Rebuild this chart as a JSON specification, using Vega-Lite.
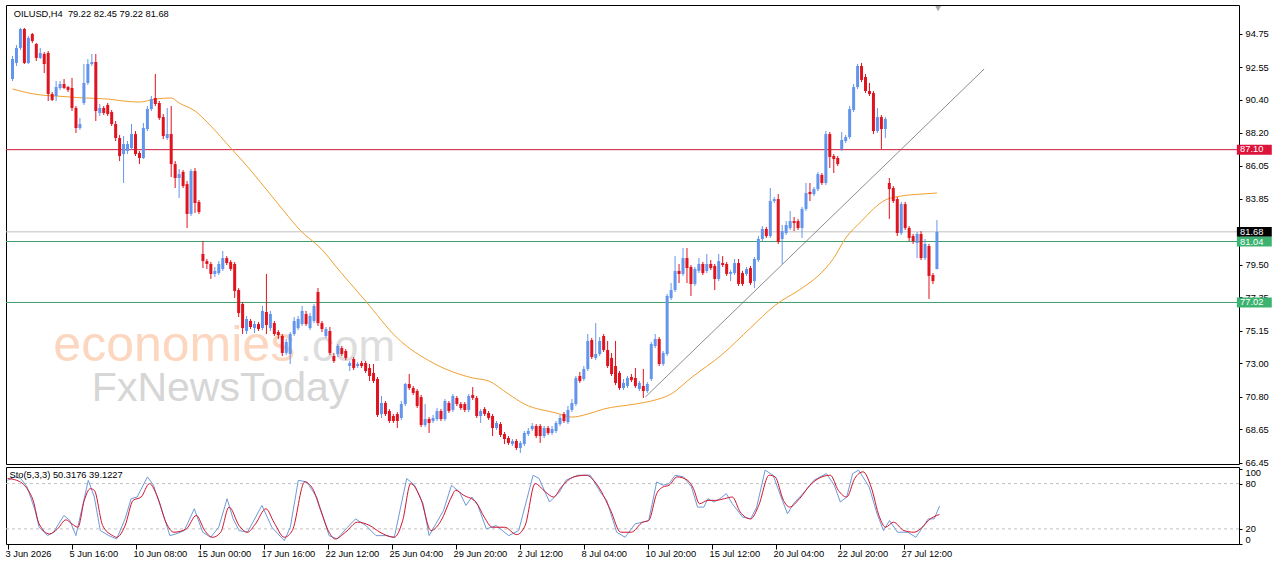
{
"$schema": "https://vega.github.io/schema/vega-lite/v6.json",
"background": "white",
"padding": {"left": 4, "top": 4, "right": 0, "bottom": 0},
"spacing": 3,
"bounds": "flush",
"config": {
  "view": {"stroke": "black", "strokeWidth": 1},
  "axis": {"labelFont": "Liberation Sans", "labelFontSize": 9.3, "labelColor": "black", "tickColor": "black", "domain": false, "grid": false},
  "text": {"font": "Liberation Sans"}
},
"datasets": {
"bars": [
{"i":0,"o":91.76,"h":93.28,"l":91.63,"c":93.08},{"i":1,"o":92.82,"h":94.00,"l":92.62,"c":93.81},{"i":2,"o":93.81,"h":95.13,"l":93.67,"c":95.06},{"i":3,"o":95.06,"h":95.13,"l":92.75,"c":92.82},{"i":4,"o":92.82,"h":94.60,"l":92.75,"c":94.47},{"i":5,"o":94.73,"h":94.80,"l":94.14,"c":94.27},{"i":6,"o":94.07,"h":94.14,"l":92.95,"c":93.15},{"i":7,"o":93.15,"h":93.81,"l":93.08,"c":93.48},{"i":8,"o":93.41,"h":93.54,"l":92.16,"c":92.75},{"i":9,"o":93.48,"h":93.61,"l":90.31,"c":90.77},
{"i":10,"o":90.77,"h":90.90,"l":90.31,"c":90.38},{"i":11,"o":90.64,"h":91.63,"l":90.31,"c":91.23},{"i":12,"o":91.17,"h":91.63,"l":91.04,"c":91.43},{"i":13,"o":91.43,"h":91.76,"l":91.10,"c":91.17},{"i":14,"o":91.23,"h":91.30,"l":90.90,"c":91.04},{"i":15,"o":91.17,"h":91.83,"l":89.65,"c":89.85},{"i":16,"o":89.85,"h":89.98,"l":88.20,"c":88.53},{"i":17,"o":88.53,"h":89.19,"l":88.40,"c":88.79},{"i":18,"o":90.18,"h":92.75,"l":90.05,"c":91.50},{"i":19,"o":91.50,"h":93.08,"l":91.37,"c":92.75},
{"i":20,"o":92.75,"h":93.41,"l":92.62,"c":92.88},{"i":21,"o":92.88,"h":93.41,"l":88.99,"c":89.65},{"i":22,"o":89.52,"h":90.11,"l":89.32,"c":89.85},{"i":23,"o":89.85,"h":89.98,"l":89.39,"c":89.52},{"i":24,"o":90.05,"h":90.18,"l":89.32,"c":89.45},{"i":25,"o":89.58,"h":89.72,"l":88.66,"c":88.79},{"i":26,"o":88.79,"h":88.99,"l":87.67,"c":87.87},{"i":27,"o":87.87,"h":88.07,"l":86.35,"c":86.68},{"i":28,"o":86.81,"h":88.00,"l":84.90,"c":87.47},{"i":29,"o":87.01,"h":87.67,"l":86.81,"c":87.47},
{"i":30,"o":87.21,"h":88.79,"l":87.08,"c":88.13},{"i":31,"o":88.13,"h":88.33,"l":86.68,"c":86.81},{"i":32,"o":86.88,"h":87.01,"l":86.15,"c":86.55},{"i":33,"o":86.55,"h":88.86,"l":86.48,"c":88.53},{"i":34,"o":88.46,"h":89.98,"l":88.33,"c":89.78},{"i":35,"o":89.78,"h":90.64,"l":89.65,"c":90.44},{"i":36,"o":90.51,"h":92.09,"l":89.98,"c":90.11},{"i":37,"o":90.18,"h":90.31,"l":89.06,"c":89.19},{"i":38,"o":89.25,"h":89.45,"l":87.80,"c":88.00},{"i":39,"o":87.87,"h":89.85,"l":87.74,"c":88.13},
{"i":40,"o":88.13,"h":89.98,"l":85.30,"c":86.15},{"i":41,"o":86.15,"h":86.35,"l":84.57,"c":85.23},{"i":42,"o":85.23,"h":85.82,"l":83.91,"c":85.49},{"i":43,"o":85.63,"h":85.76,"l":84.57,"c":84.70},{"i":44,"o":84.83,"h":85.03,"l":81.93,"c":82.86},{"i":45,"o":82.86,"h":85.82,"l":82.72,"c":85.69},{"i":46,"o":85.69,"h":85.89,"l":82.92,"c":83.58},{"i":47,"o":83.65,"h":83.78,"l":82.86,"c":82.99},{"i":48,"o":80.22,"h":81.07,"l":79.29,"c":79.75},{"i":49,"o":79.75,"h":79.89,"l":79.23,"c":79.56},
{"i":50,"o":79.56,"h":79.69,"l":78.57,"c":78.90},{"i":51,"o":78.90,"h":79.36,"l":78.70,"c":79.10},{"i":52,"o":78.96,"h":79.75,"l":78.83,"c":79.56},{"i":53,"o":79.23,"h":80.42,"l":79.10,"c":79.95},{"i":54,"o":79.95,"h":80.08,"l":79.49,"c":79.62},{"i":55,"o":79.69,"h":79.82,"l":79.10,"c":79.23},{"i":56,"o":79.56,"h":79.69,"l":77.31,"c":77.78},{"i":57,"o":77.84,"h":77.97,"l":76.06,"c":76.32},{"i":58,"o":76.92,"h":77.05,"l":74.94,"c":75.33},{"i":59,"o":75.14,"h":76.13,"l":74.94,"c":75.93},
{"i":60,"o":75.80,"h":75.93,"l":75.27,"c":75.40},{"i":61,"o":75.33,"h":75.80,"l":75.00,"c":75.60},{"i":62,"o":75.60,"h":75.73,"l":75.14,"c":75.27},{"i":63,"o":75.33,"h":76.79,"l":75.20,"c":76.46},{"i":64,"o":76.39,"h":78.90,"l":74.94,"c":75.53},{"i":65,"o":75.33,"h":76.46,"l":75.14,"c":76.26},{"i":66,"o":75.66,"h":75.80,"l":74.81,"c":74.94},{"i":67,"o":75.07,"h":75.20,"l":74.61,"c":74.87},{"i":68,"o":74.81,"h":74.94,"l":73.49,"c":73.69},{"i":69,"o":73.69,"h":74.61,"l":73.55,"c":74.41},
{"i":70,"o":73.62,"h":75.07,"l":72.96,"c":74.94},{"i":71,"o":74.94,"h":76.06,"l":74.81,"c":75.80},{"i":72,"o":75.33,"h":76.13,"l":75.20,"c":75.93},{"i":73,"o":75.60,"h":76.79,"l":75.47,"c":76.46},{"i":74,"o":76.26,"h":76.46,"l":75.47,"c":75.60},{"i":75,"o":75.33,"h":76.32,"l":75.20,"c":76.13},{"i":76,"o":75.80,"h":76.92,"l":75.66,"c":76.79},{"i":77,"o":77.71,"h":77.97,"l":75.47,"c":75.66},{"i":78,"o":75.66,"h":75.80,"l":75.07,"c":75.27},{"i":79,"o":74.81,"h":75.40,"l":74.68,"c":75.27},
{"i":80,"o":75.14,"h":75.40,"l":73.55,"c":73.69},{"i":81,"o":73.49,"h":73.69,"l":73.03,"c":73.16},{"i":82,"o":73.62,"h":74.28,"l":73.42,"c":74.15},{"i":83,"o":74.01,"h":74.15,"l":73.49,"c":73.62},{"i":84,"o":73.82,"h":73.95,"l":73.22,"c":73.36},{"i":85,"o":72.83,"h":73.16,"l":72.50,"c":73.03},{"i":86,"o":73.29,"h":73.42,"l":72.56,"c":72.70},{"i":87,"o":72.83,"h":73.09,"l":72.70,"c":72.96},{"i":88,"o":73.03,"h":73.16,"l":72.70,"c":72.83},{"i":89,"o":73.03,"h":73.16,"l":72.37,"c":72.50},
{"i":90,"o":72.70,"h":72.96,"l":71.84,"c":72.17},{"i":91,"o":72.37,"h":72.96,"l":71.71,"c":71.84},{"i":92,"o":71.97,"h":72.10,"l":69.46,"c":69.60},{"i":93,"o":69.66,"h":70.85,"l":69.40,"c":70.39},{"i":94,"o":70.39,"h":70.52,"l":69.53,"c":69.66},{"i":95,"o":69.86,"h":69.99,"l":69.07,"c":69.20},{"i":96,"o":69.53,"h":69.66,"l":69.07,"c":69.20},{"i":97,"o":69.66,"h":69.79,"l":68.74,"c":69.20},{"i":98,"o":69.40,"h":70.52,"l":69.27,"c":70.32},{"i":99,"o":70.32,"h":71.71,"l":70.19,"c":71.64},
{"i":100,"o":71.64,"h":72.30,"l":71.25,"c":71.38},{"i":101,"o":71.38,"h":71.51,"l":70.91,"c":71.05},{"i":102,"o":71.18,"h":71.31,"l":70.06,"c":70.19},{"i":103,"o":70.78,"h":70.92,"l":68.80,"c":68.94},{"i":104,"o":68.94,"h":70.32,"l":68.80,"c":69.33},{"i":105,"o":69.33,"h":69.46,"l":68.41,"c":69.07},{"i":106,"o":69.20,"h":69.60,"l":69.07,"c":69.40},{"i":107,"o":69.33,"h":70.06,"l":69.20,"c":69.86},{"i":108,"o":69.86,"h":69.99,"l":69.20,"c":69.33},{"i":109,"o":69.33,"h":70.65,"l":69.20,"c":70.52},
{"i":110,"o":70.39,"h":70.52,"l":69.73,"c":69.86},{"i":111,"o":69.93,"h":70.98,"l":69.79,"c":70.85},{"i":112,"o":70.72,"h":70.85,"l":70.19,"c":70.32},{"i":113,"o":70.32,"h":70.45,"l":69.93,"c":70.06},{"i":114,"o":70.32,"h":70.45,"l":69.79,"c":69.93},{"i":115,"o":69.93,"h":70.98,"l":69.79,"c":70.85},{"i":116,"o":70.92,"h":71.44,"l":70.59,"c":70.72},{"i":117,"o":70.72,"h":70.85,"l":69.40,"c":69.53},{"i":118,"o":69.53,"h":69.99,"l":69.07,"c":69.86},{"i":119,"o":69.99,"h":70.12,"l":69.53,"c":69.66},
{"i":120,"o":69.73,"h":69.86,"l":69.27,"c":69.40},{"i":121,"o":69.53,"h":69.66,"l":68.21,"c":68.74},{"i":122,"o":68.74,"h":69.20,"l":68.61,"c":69.07},{"i":123,"o":69.00,"h":69.13,"l":68.14,"c":68.28},{"i":124,"o":68.34,"h":68.47,"l":67.68,"c":68.01},{"i":125,"o":68.08,"h":68.21,"l":67.62,"c":67.75},{"i":126,"o":67.68,"h":68.01,"l":67.55,"c":67.88},{"i":127,"o":67.88,"h":68.01,"l":67.29,"c":67.42},{"i":128,"o":67.42,"h":67.88,"l":67.09,"c":67.75},{"i":129,"o":67.68,"h":68.54,"l":67.55,"c":68.41},
{"i":130,"o":68.34,"h":68.74,"l":68.21,"c":68.54},{"i":131,"o":68.67,"h":69.07,"l":68.54,"c":68.87},{"i":132,"o":68.87,"h":69.00,"l":68.08,"c":68.21},{"i":133,"o":68.87,"h":69.00,"l":67.75,"c":68.21},{"i":134,"o":68.21,"h":68.87,"l":68.08,"c":68.74},{"i":135,"o":68.74,"h":68.87,"l":68.28,"c":68.41},{"i":136,"o":68.41,"h":68.87,"l":68.28,"c":68.67},{"i":137,"o":68.54,"h":69.20,"l":68.41,"c":69.07},{"i":138,"o":69.00,"h":69.60,"l":68.87,"c":69.40},{"i":139,"o":69.66,"h":69.79,"l":69.07,"c":69.20},
{"i":140,"o":69.13,"h":70.19,"l":69.00,"c":69.93},{"i":141,"o":69.93,"h":70.65,"l":69.79,"c":70.39},{"i":142,"o":70.32,"h":72.17,"l":70.19,"c":72.04},{"i":143,"o":72.17,"h":72.43,"l":71.71,"c":71.84},{"i":144,"o":71.97,"h":72.83,"l":71.84,"c":72.63},{"i":145,"o":72.63,"h":74.94,"l":72.50,"c":74.48},{"i":146,"o":74.54,"h":74.68,"l":73.29,"c":73.42},{"i":147,"o":73.36,"h":75.66,"l":73.22,"c":73.62},{"i":148,"o":73.62,"h":74.74,"l":73.49,"c":74.48},{"i":149,"o":74.81,"h":74.94,"l":73.75,"c":73.88},
{"i":150,"o":73.88,"h":74.48,"l":72.70,"c":72.83},{"i":151,"o":73.36,"h":73.69,"l":72.17,"c":72.30},{"i":152,"o":72.83,"h":74.48,"l":71.57,"c":71.71},{"i":153,"o":72.37,"h":72.50,"l":71.25,"c":71.38},{"i":154,"o":71.38,"h":71.97,"l":71.25,"c":71.71},{"i":155,"o":71.51,"h":72.17,"l":71.38,"c":72.04},{"i":156,"o":72.10,"h":72.30,"l":71.77,"c":71.90},{"i":157,"o":72.04,"h":72.70,"l":71.38,"c":71.51},{"i":158,"o":71.31,"h":71.84,"l":71.18,"c":71.71},{"i":159,"o":71.51,"h":72.63,"l":70.72,"c":71.18},
{"i":160,"o":71.18,"h":71.77,"l":71.05,"c":71.64},{"i":161,"o":71.97,"h":74.41,"l":71.84,"c":74.28},{"i":162,"o":74.15,"h":74.94,"l":74.01,"c":74.61},{"i":163,"o":74.61,"h":74.74,"l":72.83,"c":72.96},{"i":164,"o":72.96,"h":73.82,"l":72.83,"c":73.69},{"i":165,"o":73.62,"h":77.58,"l":73.49,"c":77.45},{"i":166,"o":77.31,"h":78.30,"l":77.18,"c":77.84},{"i":167,"o":77.84,"h":80.08,"l":77.71,"c":79.10},{"i":168,"o":79.10,"h":79.56,"l":78.30,"c":78.90},{"i":169,"o":78.90,"h":80.61,"l":78.77,"c":79.95},
{"i":170,"o":79.95,"h":80.61,"l":78.30,"c":79.29},{"i":171,"o":79.36,"h":79.49,"l":77.45,"c":78.24},{"i":172,"o":78.24,"h":79.36,"l":78.11,"c":79.23},{"i":173,"o":79.10,"h":79.95,"l":78.96,"c":79.56},{"i":174,"o":79.56,"h":79.69,"l":78.83,"c":78.96},{"i":175,"o":79.10,"h":80.22,"l":78.96,"c":79.56},{"i":176,"o":79.56,"h":79.82,"l":79.16,"c":79.29},{"i":177,"o":79.43,"h":79.56,"l":77.84,"c":78.57},{"i":178,"o":78.57,"h":80.22,"l":78.43,"c":79.75},{"i":179,"o":79.62,"h":80.08,"l":79.36,"c":79.49},
{"i":180,"o":79.56,"h":79.69,"l":78.77,"c":78.90},{"i":181,"o":78.90,"h":79.16,"l":78.43,"c":79.03},{"i":182,"o":78.96,"h":79.89,"l":78.83,"c":79.62},{"i":183,"o":79.62,"h":79.89,"l":78.11,"c":78.24},{"i":184,"o":78.96,"h":79.10,"l":78.11,"c":78.24},{"i":185,"o":78.90,"h":79.36,"l":78.77,"c":79.23},{"i":186,"o":79.29,"h":79.43,"l":78.17,"c":78.30},{"i":187,"o":78.43,"h":80.02,"l":77.97,"c":79.89},{"i":188,"o":79.82,"h":81.40,"l":79.69,"c":81.21},{"i":189,"o":81.21,"h":82.06,"l":81.07,"c":81.87},
{"i":190,"o":81.87,"h":82.00,"l":81.27,"c":81.40},{"i":191,"o":81.40,"h":84.57,"l":81.27,"c":83.71},{"i":192,"o":83.71,"h":83.98,"l":83.58,"c":83.84},{"i":193,"o":83.84,"h":84.17,"l":80.88,"c":81.01},{"i":194,"o":81.21,"h":82.13,"l":79.56,"c":81.73},{"i":195,"o":81.60,"h":82.39,"l":81.47,"c":82.13},{"i":196,"o":81.93,"h":83.05,"l":81.80,"c":82.39},{"i":197,"o":82.39,"h":82.66,"l":81.73,"c":82.26},{"i":198,"o":82.39,"h":82.53,"l":81.80,"c":81.93},{"i":199,"o":81.93,"h":83.32,"l":81.27,"c":83.19},
{"i":200,"o":83.19,"h":84.90,"l":83.05,"c":84.24},{"i":201,"o":84.31,"h":84.90,"l":83.71,"c":84.17},{"i":202,"o":84.17,"h":84.64,"l":84.04,"c":84.50},{"i":203,"o":84.50,"h":85.63,"l":84.37,"c":85.49},{"i":204,"o":85.43,"h":85.56,"l":84.77,"c":84.90},{"i":205,"o":84.90,"h":88.33,"l":84.77,"c":88.13},{"i":206,"o":88.13,"h":88.27,"l":85.89,"c":86.62},{"i":207,"o":86.68,"h":86.81,"l":85.56,"c":86.48},{"i":208,"o":86.55,"h":86.68,"l":86.02,"c":86.15},{"i":209,"o":87.14,"h":88.27,"l":87.01,"c":87.74},
{"i":210,"o":87.67,"h":88.07,"l":87.54,"c":87.93},{"i":211,"o":87.93,"h":89.98,"l":87.80,"c":89.78},{"i":212,"o":89.72,"h":91.43,"l":89.58,"c":91.23},{"i":213,"o":91.23,"h":92.75,"l":91.10,"c":92.62},{"i":214,"o":92.62,"h":92.82,"l":91.56,"c":91.70},{"i":215,"o":91.89,"h":92.09,"l":90.84,"c":90.97},{"i":216,"o":90.97,"h":91.50,"l":90.64,"c":90.77},{"i":217,"o":90.84,"h":90.97,"l":88.13,"c":88.33},{"i":218,"o":88.33,"h":89.85,"l":88.20,"c":89.25},{"i":219,"o":89.25,"h":89.39,"l":87.14,"c":88.46},
{"i":220,"o":88.46,"h":89.25,"l":87.87,"c":89.12},{"i":221,"o":84.90,"h":85.23,"l":82.53,"c":84.50},{"i":222,"o":84.57,"h":84.70,"l":83.58,"c":83.71},{"i":223,"o":83.84,"h":83.98,"l":81.40,"c":81.60},{"i":224,"o":81.60,"h":83.65,"l":81.47,"c":83.51},{"i":225,"o":83.51,"h":83.65,"l":81.80,"c":81.93},{"i":226,"o":81.93,"h":82.06,"l":81.07,"c":81.27},{"i":227,"o":81.40,"h":81.54,"l":80.88,"c":81.07},{"i":228,"o":80.94,"h":81.67,"l":79.95,"c":81.54},{"i":229,"o":81.54,"h":81.73,"l":79.82,"c":79.95},
{"i":230,"o":79.95,"h":81.21,"l":79.82,"c":80.88},{"i":231,"o":80.74,"h":80.88,"l":77.25,"c":78.77},{"i":232,"o":78.83,"h":78.96,"l":78.24,"c":78.43},{"i":233,"o":79.22,"h":82.45,"l":79.22,"c":81.68}
],
"ma": [
{"i":0,"p":91.10},{"i":7,"p":90.71},{"i":11,"p":90.64},{"i":18,"p":90.51},{"i":24,"p":90.44},{"i":28,"p":90.31},{"i":32,"p":90.24},{"i":36,"p":90.44},{"i":40,"p":90.51},{"i":42,"p":90.18},{"i":46,"p":89.65},{"i":50,"p":88.66},{"i":55,"p":87.21},{"i":58,"p":86.35},{"i":67,"p":83.51},{"i":72,"p":81.93},{"i":79,"p":80.22},{"i":81,"p":79.56},{"i":89,"p":77.12},{"i":97,"p":74.67},{"i":106,"p":73.03},{"i":116,"p":72.04},{"i":120,"p":71.84},{"i":125,"p":70.98},{"i":129,"p":70.32},{"i":137,"p":69.73},{"i":141,"p":69.46},{"i":145,"p":69.66},{"i":149,"p":69.99},{"i":157,"p":70.32},{"i":161,"p":70.52},{"i":166,"p":70.98},{"i":171,"p":72.04},{"i":179,"p":73.62},{"i":186,"p":75.34},{"i":192,"p":76.79},{"i":199,"p":77.97},{"i":203,"p":78.76},{"i":207,"p":79.95},{"i":210,"p":81.27},{"i":214,"p":82.39},{"i":217,"p":83.19},{"i":220,"p":83.78},{"i":224,"p":84.04},{"i":229,"p":84.17},{"i":233,"p":84.24}
],
"trend": [{"i":159.5,"p":70.78},{"i":244.9,"p":92.42}],
"sto": [
{"i":0,"s":"K","v":84.4},{"i":1.8,"s":"K","v":88.9},{"i":3.3,"s":"K","v":86.7},{"i":4.9,"s":"K","v":75.6},{"i":5.9,"s":"K","v":60},{"i":6.9,"s":"K","v":44.4},{"i":7.9,"s":"K","v":22.2},{"i":10,"s":"K","v":11.1},{"i":11.5,"s":"K","v":15.6},{"i":14.1,"s":"K","v":37.8},{"i":15.6,"s":"K","v":31.1},{"i":17.1,"s":"K","v":11.1},{"i":18.7,"s":"K","v":48.9},{"i":20.2,"s":"K","v":84.4},{"i":21.7,"s":"K","v":62.2},{"i":23.2,"s":"K","v":17.8},{"i":25.3,"s":"K","v":11.1},{"i":27.3,"s":"K","v":6.7},{"i":29.4,"s":"K","v":33.3},{"i":30.9,"s":"K","v":60},{"i":32.4,"s":"K","v":62.2},{"i":35,"s":"K","v":88.9},{"i":36.5,"s":"K","v":77.8},{"i":38.6,"s":"K","v":44.4},{"i":40.6,"s":"K","v":11.1},{"i":42.1,"s":"K","v":13.3},{"i":44.2,"s":"K","v":17.8},{"i":46.7,"s":"K","v":46.7},{"i":48.8,"s":"K","v":15.6},{"i":50.8,"s":"K","v":8.9},{"i":52.8,"s":"K","v":22.2},{"i":54.9,"s":"K","v":60},{"i":56.4,"s":"K","v":33.3},{"i":57.9,"s":"K","v":17.8},{"i":60,"s":"K","v":15.6},{"i":63.6,"s":"K","v":51.1},{"i":66.1,"s":"K","v":22.2},{"i":69.2,"s":"K","v":4.4},{"i":70.7,"s":"K","v":22.2},{"i":72.7,"s":"K","v":84.4},{"i":74.8,"s":"K","v":82.2},{"i":77.3,"s":"K","v":62.2},{"i":80.4,"s":"K","v":11.1},{"i":82.4,"s":"K","v":6.7},{"i":85,"s":"K","v":22.2},{"i":87,"s":"K","v":33.3},{"i":89.6,"s":"K","v":24.4},{"i":92.1,"s":"K","v":11.1},{"i":94.7,"s":"K","v":11.1},{"i":96.7,"s":"K","v":8.9},{"i":99.8,"s":"K","v":86.7},{"i":101.8,"s":"K","v":77.8},{"i":103.9,"s":"K","v":53.3},{"i":105.4,"s":"K","v":11.1},{"i":109,"s":"K","v":44.4},{"i":111,"s":"K","v":77.8},{"i":113,"s":"K","v":68.9},{"i":114.6,"s":"K","v":51.1},{"i":116.1,"s":"K","v":62.2},{"i":117.6,"s":"K","v":51.1},{"i":119.7,"s":"K","v":20},{"i":122.2,"s":"K","v":24.4},{"i":125.3,"s":"K","v":11.1},{"i":127.8,"s":"K","v":17.8},{"i":131.4,"s":"K","v":91.1},{"i":132.9,"s":"K","v":86.7},{"i":135.5,"s":"K","v":55.6},{"i":138,"s":"K","v":68.9},{"i":139.6,"s":"K","v":84.4},{"i":142.6,"s":"K","v":91.1},{"i":145.7,"s":"K","v":91.1},{"i":148.2,"s":"K","v":68.9},{"i":149.8,"s":"K","v":57.8},{"i":152.3,"s":"K","v":15.6},{"i":154.4,"s":"K","v":8.9},{"i":156.9,"s":"K","v":26.7},{"i":158.8,"s":"K","v":28.9},{"i":160.3,"s":"K","v":31.1},{"i":162.3,"s":"K","v":82.2},{"i":163.9,"s":"K","v":77.8},{"i":165.4,"s":"K","v":80},{"i":166.9,"s":"K","v":91.1},{"i":169,"s":"K","v":88.9},{"i":171,"s":"K","v":75.6},{"i":172.5,"s":"K","v":48.9},{"i":174.1,"s":"K","v":48.9},{"i":175.1,"s":"K","v":60},{"i":176.6,"s":"K","v":55.6},{"i":178.1,"s":"K","v":60},{"i":179.7,"s":"K","v":66.7},{"i":181.2,"s":"K","v":53.3},{"i":183.8,"s":"K","v":35.6},{"i":185.8,"s":"K","v":33.3},{"i":187.3,"s":"K","v":48.9},{"i":189.4,"s":"K","v":97.8},{"i":191.4,"s":"K","v":91.1},{"i":193.4,"s":"K","v":62.2},{"i":195,"s":"K","v":40},{"i":196.5,"s":"K","v":53.3},{"i":199.6,"s":"K","v":71.1},{"i":201.6,"s":"K","v":84.4},{"i":204.7,"s":"K","v":93.3},{"i":206.7,"s":"K","v":77.8},{"i":208.2,"s":"K","v":55.6},{"i":209.8,"s":"K","v":62.2},{"i":211.3,"s":"K","v":93.3},{"i":212.8,"s":"K","v":97.8},{"i":215.4,"s":"K","v":75.6},{"i":217.4,"s":"K","v":40},{"i":219,"s":"K","v":17.8},{"i":220.5,"s":"K","v":31.1},{"i":222.5,"s":"K","v":15.6},{"i":225.1,"s":"K","v":15.6},{"i":227.1,"s":"K","v":8.9},{"i":230.2,"s":"K","v":33.3},{"i":231.7,"s":"K","v":33.3},{"i":233,"s":"K","v":50.32},
{"i":0,"s":"D","v":86.7},{"i":2.3,"s":"D","v":84.4},{"i":4.9,"s":"D","v":73.3},{"i":6.4,"s":"D","v":57.8},{"i":7.9,"s":"D","v":26.7},{"i":10.5,"s":"D","v":13.3},{"i":12.5,"s":"D","v":20},{"i":14.6,"s":"D","v":32},{"i":16.1,"s":"D","v":26.7},{"i":17.6,"s":"D","v":22.2},{"i":19.2,"s":"D","v":57.8},{"i":20.7,"s":"D","v":73.3},{"i":21.7,"s":"D","v":71.1},{"i":23.8,"s":"D","v":24.4},{"i":26.3,"s":"D","v":11.1},{"i":27.3,"s":"D","v":8.9},{"i":29.4,"s":"D","v":24.4},{"i":31.4,"s":"D","v":57.8},{"i":33.4,"s":"D","v":62.2},{"i":35.5,"s":"D","v":80},{"i":37.5,"s":"D","v":62.2},{"i":39.6,"s":"D","v":28.9},{"i":41.6,"s":"D","v":15.6},{"i":44.7,"s":"D","v":20},{"i":47.2,"s":"D","v":37.8},{"i":49.3,"s":"D","v":17.8},{"i":51.3,"s":"D","v":8.9},{"i":53.3,"s":"D","v":15.6},{"i":55.4,"s":"D","v":48.9},{"i":57.9,"s":"D","v":24.4},{"i":60,"s":"D","v":15.6},{"i":62,"s":"D","v":26.7},{"i":64.6,"s":"D","v":46.7},{"i":66.6,"s":"D","v":28.9},{"i":69.2,"s":"D","v":8.9},{"i":71.2,"s":"D","v":17.8},{"i":74.3,"s":"D","v":82.2},{"i":76.3,"s":"D","v":73.3},{"i":78.3,"s":"D","v":44.4},{"i":80.4,"s":"D","v":15.6},{"i":81.9,"s":"D","v":6.7},{"i":84.5,"s":"D","v":15.6},{"i":87.5,"s":"D","v":28.9},{"i":90.6,"s":"D","v":24.4},{"i":93.1,"s":"D","v":15.6},{"i":96.7,"s":"D","v":8.9},{"i":98.8,"s":"D","v":31.1},{"i":100.8,"s":"D","v":80},{"i":103.3,"s":"D","v":60},{"i":105.9,"s":"D","v":17.8},{"i":108.4,"s":"D","v":31.1},{"i":111,"s":"D","v":62.2},{"i":112,"s":"D","v":71.1},{"i":114.1,"s":"D","v":64.4},{"i":117.1,"s":"D","v":55.6},{"i":119.2,"s":"D","v":35.6},{"i":121.2,"s":"D","v":22.2},{"i":124.3,"s":"D","v":22.2},{"i":127.3,"s":"D","v":12.4},{"i":129.4,"s":"D","v":24.4},{"i":131.9,"s":"D","v":80},{"i":134.5,"s":"D","v":68.9},{"i":136.5,"s":"D","v":62.2},{"i":138.5,"s":"D","v":75.6},{"i":141.6,"s":"D","v":88.9},{"i":144.7,"s":"D","v":91.1},{"i":147.2,"s":"D","v":80},{"i":150.8,"s":"D","v":44.4},{"i":153.3,"s":"D","v":15.6},{"i":155.9,"s":"D","v":15.6},{"i":158.8,"s":"D","v":28.9},{"i":160.3,"s":"D","v":31.1},{"i":162.3,"s":"D","v":66.7},{"i":163.9,"s":"D","v":75.6},{"i":165.4,"s":"D","v":77.8},{"i":167.4,"s":"D","v":88.9},{"i":170,"s":"D","v":84.4},{"i":171.5,"s":"D","v":73.3},{"i":173,"s":"D","v":53.3},{"i":175.1,"s":"D","v":57.8},{"i":177.1,"s":"D","v":57.8},{"i":179.2,"s":"D","v":60},{"i":181.2,"s":"D","v":62.2},{"i":183.2,"s":"D","v":42.2},{"i":185.8,"s":"D","v":33.3},{"i":187.8,"s":"D","v":51.1},{"i":190.4,"s":"D","v":91.1},{"i":191.9,"s":"D","v":88.9},{"i":194,"s":"D","v":57.8},{"i":195.5,"s":"D","v":48.9},{"i":198,"s":"D","v":60},{"i":200.6,"s":"D","v":77.8},{"i":203.6,"s":"D","v":88.9},{"i":205.7,"s":"D","v":91.1},{"i":207.7,"s":"D","v":71.1},{"i":209.8,"s":"D","v":62.2},{"i":211.8,"s":"D","v":86.7},{"i":213.9,"s":"D","v":95.6},{"i":215.9,"s":"D","v":75.6},{"i":218,"s":"D","v":35.6},{"i":219.5,"s":"D","v":22.2},{"i":221.5,"s":"D","v":28.9},{"i":224.1,"s":"D","v":17.8},{"i":226.6,"s":"D","v":15.6},{"i":228.7,"s":"D","v":22.2},{"i":230.2,"s":"D","v":31.1},{"i":233,"s":"D","v":39.12}
]
},
"vconcat": [
{
  "width": 1233, "height": 459,
  "layer": [
    {"data": {"values": [{}]}, "mark": {"type": "text", "text": "economies", "font": "Liberation Sans", "fontSize": 50, "color": "#fcd6bf", "align": "left", "baseline": "alphabetic"},
     "encoding": {"x": {"datum": 10.3, "type": "quantitative", "scale": {"domain": [-0.375, 307.875], "nice": false, "zero": false}, "axis": null},
                  "y": {"datum": 73.16, "type": "quantitative", "scale": {"domain": [66.364, 96.643], "nice": false, "zero": false}, "axis": {"orient": "right", "values": [66.45, 68.65, 70.8, 73, 75.15, 77.35, 79.5, 83.85, 86.05, 88.2, 90.4, 92.55, 94.75], "format": ".2f", "tickSize": 3, "labelPadding": 3, "title": null}}}},
    {"data": {"values": [{}]}, "mark": {"type": "text", "text": ".com", "font": "Liberation Sans", "fontSize": 44, "color": "#dddddd", "align": "left", "baseline": "alphabetic"},
     "encoding": {"x": {"datum": 72.4, "type": "quantitative", "scale": {"domain": [-0.375, 307.875], "nice": false, "zero": false}, "axis": null},
                  "y": {"datum": 73.16, "type": "quantitative", "scale": {"domain": [66.364, 96.643], "nice": false, "zero": false}, "axis": {"orient": "right", "values": [66.45, 68.65, 70.8, 73, 75.15, 77.35, 79.5, 83.85, 86.05, 88.2, 90.4, 92.55, 94.75], "format": ".2f", "tickSize": 3, "labelPadding": 3, "title": null}}}},
    {"data": {"values": [{}]}, "mark": {"type": "text", "text": "FxNewsToday", "font": "Liberation Sans", "fontSize": 41, "color": "#d6d6d6", "align": "left", "baseline": "alphabetic"},
     "encoding": {"x": {"datum": 20.0, "type": "quantitative", "scale": {"domain": [-0.375, 307.875], "nice": false, "zero": false}, "axis": null},
                  "y": {"datum": 70.52, "type": "quantitative", "scale": {"domain": [66.364, 96.643], "nice": false, "zero": false}, "axis": {"orient": "right", "values": [66.45, 68.65, 70.8, 73, 75.15, 77.35, 79.5, 83.85, 86.05, 88.2, 90.4, 92.55, 94.75], "format": ".2f", "tickSize": 3, "labelPadding": 3, "title": null}}}},
    {"data": {"values": [{"p": 87.10}]}, "mark": {"type": "rule", "color": "#cc1a3a", "strokeWidth": 1},
     "encoding": {"y": {"field": "p", "type": "quantitative", "scale": {"domain": [66.364, 96.643], "nice": false, "zero": false}, "axis": {"orient": "right", "values": [66.45, 68.65, 70.8, 73, 75.15, 77.35, 79.5, 83.85, 86.05, 88.2, 90.4, 92.55, 94.75], "format": ".2f", "tickSize": 3, "labelPadding": 3, "title": null}}}},
    {"data": {"values": [{"p": 81.68}]}, "mark": {"type": "rule", "color": "#c0c0c0", "strokeWidth": 1},
     "encoding": {"y": {"field": "p", "type": "quantitative", "scale": {"domain": [66.364, 96.643], "nice": false, "zero": false}, "axis": {"orient": "right", "values": [66.45, 68.65, 70.8, 73, 75.15, 77.35, 79.5, 83.85, 86.05, 88.2, 90.4, 92.55, 94.75], "format": ".2f", "tickSize": 3, "labelPadding": 3, "title": null}}}},
    {"data": {"values": [{"p": 81.04}, {"p": 77.02}]}, "mark": {"type": "rule", "color": "#3d9d6c", "strokeWidth": 1},
     "encoding": {"y": {"field": "p", "type": "quantitative", "scale": {"domain": [66.364, 96.643], "nice": false, "zero": false}, "axis": {"orient": "right", "values": [66.45, 68.65, 70.8, 73, 75.15, 77.35, 79.5, 83.85, 86.05, 88.2, 90.4, 92.55, 94.75], "format": ".2f", "tickSize": 3, "labelPadding": 3, "title": null}}}},
    {"data": {"name": "ma"}, "mark": {"type": "line", "color": "#f0a030", "strokeWidth": 1, "interpolate": "monotone"},
     "encoding": {"x": {"field": "i", "type": "quantitative", "scale": {"domain": [-0.375, 307.875], "nice": false, "zero": false}, "axis": null},
                  "y": {"field": "p", "type": "quantitative", "scale": {"domain": [66.364, 96.643], "nice": false, "zero": false}, "axis": {"orient": "right", "values": [66.45, 68.65, 70.8, 73, 75.15, 77.35, 79.5, 83.85, 86.05, 88.2, 90.4, 92.55, 94.75], "format": ".2f", "tickSize": 3, "labelPadding": 3, "title": null}}}},
    {"data": {"name": "trend"}, "mark": {"type": "line", "color": "#6e6e6e", "strokeWidth": 0.8},
     "encoding": {"x": {"field": "i", "type": "quantitative", "scale": {"domain": [-0.375, 307.875], "nice": false, "zero": false}, "axis": null},
                  "y": {"field": "p", "type": "quantitative", "scale": {"domain": [66.364, 96.643], "nice": false, "zero": false}, "axis": {"orient": "right", "values": [66.45, 68.65, 70.8, 73, 75.15, 77.35, 79.5, 83.85, 86.05, 88.2, 90.4, 92.55, 94.75], "format": ".2f", "tickSize": 3, "labelPadding": 3, "title": null}}}},
    {"data": {"name": "bars"}, "mark": {"type": "rule", "strokeWidth": 1},
     "encoding": {
       "x": {"field": "i", "type": "quantitative", "scale": {"domain": [-0.375, 307.875], "nice": false, "zero": false}, "axis": null},
       "y": {"field": "l", "type": "quantitative", "scale": {"domain": [66.364, 96.643], "nice": false, "zero": false}, "axis": {"orient": "right", "values": [66.45, 68.65, 70.8, 73, 75.15, 77.35, 79.5, 83.85, 86.05, 88.2, 90.4, 92.55, 94.75], "format": ".2f", "tickSize": 3, "labelPadding": 3, "title": null}},
       "y2": {"field": "h"},
       "color": {"condition": {"test": "datum.c >= datum.o", "value": "#6495ed"}, "value": "#e0141e"}}},
    {"data": {"name": "bars"}, "mark": {"type": "bar", "size": 3},
     "encoding": {
       "x": {"field": "i", "type": "quantitative", "scale": {"domain": [-0.375, 307.875], "nice": false, "zero": false}, "axis": null},
       "y": {"field": "o", "type": "quantitative", "scale": {"domain": [66.364, 96.643], "nice": false, "zero": false}, "axis": {"orient": "right", "values": [66.45, 68.65, 70.8, 73, 75.15, 77.35, 79.5, 83.85, 86.05, 88.2, 90.4, 92.55, 94.75], "format": ".2f", "tickSize": 3, "labelPadding": 3, "title": null}},
       "y2": {"field": "c"},
       "color": {"condition": {"test": "datum.c >= datum.o", "value": "#6495ed"}, "value": "#e0141e"}}},
    {"data": {"values": [{}]}, "mark": {"type": "text", "text": "OILUSD,H4\u00a0 79.22 82.45 79.22 81.68", "fontSize": 9.3, "color": "black", "align": "left", "baseline": "middle"},
     "encoding": {"x": {"datum": 0.3, "type": "quantitative", "scale": {"domain": [-0.375, 307.875], "nice": false, "zero": false}, "axis": null},
                  "y": {"datum": 96.07, "type": "quantitative", "scale": {"domain": [66.364, 96.643], "nice": false, "zero": false}, "axis": {"orient": "right", "values": [66.45, 68.65, 70.8, 73, 75.15, 77.35, 79.5, 83.85, 86.05, 88.2, 90.4, 92.55, 94.75], "format": ".2f", "tickSize": 3, "labelPadding": 3, "title": null}}}},
    {"data": {"values": [{}]}, "mark": {"type": "point", "shape": "triangle-down", "filled": true, "color": "#a8a8a8", "size": 35, "opacity": 1},
     "encoding": {"x": {"datum": 233.3, "type": "quantitative", "scale": {"domain": [-0.375, 307.875], "nice": false, "zero": false}, "axis": null},
                  "y": {"datum": 96.40, "type": "quantitative", "scale": {"domain": [66.364, 96.643], "nice": false, "zero": false}, "axis": {"orient": "right", "values": [66.45, 68.65, 70.8, 73, 75.15, 77.35, 79.5, 83.85, 86.05, 88.2, 90.4, 92.55, 94.75], "format": ".2f", "tickSize": 3, "labelPadding": 3, "title": null}}}},
    {"data": {"values": [{"p": 87.43, "p2": 86.77, "k": "a"}, {"p": 82.0, "p2": 81.36, "k": "b"}, {"p": 81.36, "p2": 80.72, "k": "c"}, {"p": 77.35, "p2": 76.69, "k": "d"}]}, "mark": {"type": "rect"},
     "encoding": {"x": {"datum": 308.6, "type": "quantitative", "scale": {"domain": [-0.375, 307.875], "nice": false, "zero": false}, "axis": null}, "x2": {"datum": 317.4},
                  "y": {"field": "p", "type": "quantitative", "scale": {"domain": [66.364, 96.643], "nice": false, "zero": false}, "axis": {"orient": "right", "values": [66.45, 68.65, 70.8, 73, 75.15, 77.35, 79.5, 83.85, 86.05, 88.2, 90.4, 92.55, 94.75], "format": ".2f", "tickSize": 3, "labelPadding": 3, "title": null}}, "y2": {"field": "p2"},
                  "color": {"field": "k", "type": "nominal", "scale": {"domain": ["a", "b", "c", "d"], "range": ["#dc143c", "#000000", "#3cb371", "#3cb371"]}, "legend": null}}},
    {"data": {"values": [{"t": "87.10", "p": 87.14}, {"t": "81.68", "p": 81.68}, {"t": "81.04", "p": 81.04}, {"t": "77.02", "p": 77.02}]}, "mark": {"type": "text", "fontSize": 9.3, "color": "white", "align": "left", "baseline": "middle"},
     "encoding": {"x": {"datum": 309.4, "type": "quantitative", "scale": {"domain": [-0.375, 307.875], "nice": false, "zero": false}, "axis": null},
                  "y": {"field": "p", "type": "quantitative", "scale": {"domain": [66.364, 96.643], "nice": false, "zero": false}, "axis": {"orient": "right", "values": [66.45, 68.65, 70.8, 73, 75.15, 77.35, 79.5, 83.85, 86.05, 88.2, 90.4, 92.55, 94.75], "format": ".2f", "tickSize": 3, "labelPadding": 3, "title": null}},
                  "text": {"field": "t"}}}
  ]
},
{
  "width": 1233, "height": 77,
  "layer": [
    {"data": {"values": [{"v": 80}, {"v": 20}]}, "mark": {"type": "rule", "color": "#c0c0c0", "strokeDash": [3, 3], "strokeWidth": 1},
     "encoding": {"y": {"field": "v", "type": "quantitative", "scale": {"domain": [0, 102], "nice": false, "zero": false}, "axis": {"orient": "right", "values": [0, 20, 80, 100], "tickSize": 3, "labelPadding": 3, "title": null, "labelBaseline": {"condition": [{"test": "datum.value == 100", "value": "top"}, {"test": "datum.value == 0", "value": "bottom"}], "value": "middle"}}}}},
    {"data": {"name": "sto"}, "transform": [{"filter": "datum.s == 'K'"}], "mark": {"type": "line", "color": "#6f9ad8", "strokeWidth": 1},
     "encoding": {
       "x": {"field": "i", "type": "quantitative", "scale": {"domain": [-0.375, 307.875], "nice": false, "zero": false},
             "axis": {"orient": "bottom", "values": [0, 16, 32, 48, 64, 80, 96, 112, 128, 144, 160, 176, 192, 208, 224], "labelExpr": "['3 Jun 2026','5 Jun 16:00','10 Jun 08:00','15 Jun 00:00','17 Jun 16:00','22 Jun 12:00','25 Jun 04:00','29 Jun 20:00','2 Jul 12:00','8 Jul 04:00','10 Jul 20:00','15 Jul 12:00','20 Jul 04:00','22 Jul 20:00','27 Jul 12:00'][round(datum.value/16)]", "labelAlign": "left", "labelOffset": -2.5, "tickSize": 5, "labelPadding": 0, "labelBound": false, "labelOverlap": false, "title": null}},
       "y": {"field": "v", "type": "quantitative", "scale": {"domain": [0, 102], "nice": false, "zero": false}, "axis": {"orient": "right", "values": [0, 20, 80, 100], "tickSize": 3, "labelPadding": 3, "title": null, "labelBaseline": {"condition": [{"test": "datum.value == 100", "value": "top"}, {"test": "datum.value == 0", "value": "bottom"}], "value": "middle"}}}}},
    {"data": {"name": "sto"}, "transform": [{"filter": "datum.s == 'D'"}], "mark": {"type": "line", "color": "#d0142c", "strokeWidth": 1, "interpolate": "monotone"},
     "encoding": {
       "x": {"field": "i", "type": "quantitative", "scale": {"domain": [-0.375, 307.875], "nice": false, "zero": false},
             "axis": {"orient": "bottom", "values": [0, 16, 32, 48, 64, 80, 96, 112, 128, 144, 160, 176, 192, 208, 224], "labelExpr": "['3 Jun 2026','5 Jun 16:00','10 Jun 08:00','15 Jun 00:00','17 Jun 16:00','22 Jun 12:00','25 Jun 04:00','29 Jun 20:00','2 Jul 12:00','8 Jul 04:00','10 Jul 20:00','15 Jul 12:00','20 Jul 04:00','22 Jul 20:00','27 Jul 12:00'][round(datum.value/16)]", "labelAlign": "left", "labelOffset": -2.5, "tickSize": 5, "labelPadding": 0, "labelBound": false, "labelOverlap": false, "title": null}},
       "y": {"field": "v", "type": "quantitative", "scale": {"domain": [0, 102], "nice": false, "zero": false}, "axis": {"orient": "right", "values": [0, 20, 80, 100], "tickSize": 3, "labelPadding": 3, "title": null, "labelBaseline": {"condition": [{"test": "datum.value == 100", "value": "top"}, {"test": "datum.value == 0", "value": "bottom"}], "value": "middle"}}}}},
    {"data": {"values": [{}]}, "mark": {"type": "text", "text": "Sto(5,3,3) 50.3176 39.1227", "fontSize": 9.3, "color": "black", "align": "left", "baseline": "middle"},
     "encoding": {
       "x": {"datum": 0.5, "type": "quantitative", "scale": {"domain": [-0.375, 307.875], "nice": false, "zero": false},
             "axis": {"orient": "bottom", "values": [0, 16, 32, 48, 64, 80, 96, 112, 128, 144, 160, 176, 192, 208, 224], "labelExpr": "['3 Jun 2026','5 Jun 16:00','10 Jun 08:00','15 Jun 00:00','17 Jun 16:00','22 Jun 12:00','25 Jun 04:00','29 Jun 20:00','2 Jul 12:00','8 Jul 04:00','10 Jul 20:00','15 Jul 12:00','20 Jul 04:00','22 Jul 20:00','27 Jul 12:00'][round(datum.value/16)]", "labelAlign": "left", "labelOffset": -2.5, "tickSize": 5, "labelPadding": 0, "labelBound": false, "labelOverlap": false, "title": null}},
       "y": {"datum": 91.5, "type": "quantitative", "scale": {"domain": [0, 102], "nice": false, "zero": false}, "axis": {"orient": "right", "values": [0, 20, 80, 100], "tickSize": 3, "labelPadding": 3, "title": null, "labelBaseline": {"condition": [{"test": "datum.value == 100", "value": "top"}, {"test": "datum.value == 0", "value": "bottom"}], "value": "middle"}}}}}
  ]
}
]
}
